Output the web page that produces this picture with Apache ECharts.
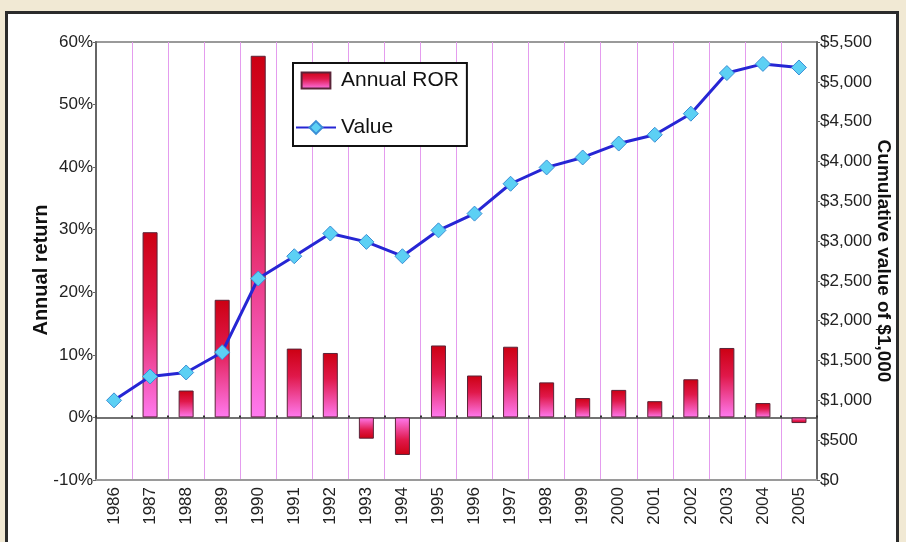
<!DOCTYPE html>
<html>
<head>
<meta charset="utf-8">
<script src="https://cdn.jsdelivr.net/npm/echarts@6/dist/echarts.min.js"></script>
<style>
  html, body { margin: 0; padding: 0; background: #f1e9d4; }
  #panel {
    position: absolute; left: 5px; top: 11px; width: 888px; height: 540px;
    background: #fff; border: 3px solid #2b2b2b; border-bottom: none;
  }
  #main { position: absolute; left: 0; top: 0; width: 906px; height: 542px; }
</style>
</head>
<body>
<div id="panel"></div>
<div id="main"></div>
<script>
// years on the x axis
const years = ['1986', '1987', '1988', '1989', '1990', '1991', '1992', '1993', '1994', '1995',
  '1996', '1997', '1998', '1999', '2000', '2001', '2002', '2003', '2004', '2005'];
// annual rate of return, percent (1986 has no bar)
const annualRor = [null, 29.6, 4.3, 18.8, 57.8, 11.0, 10.3, -3.4, -6.0, 11.5,
  6.7, 11.3, 5.6, 3.1, 4.4, 2.6, 6.1, 11.1, 2.3, -0.9];
// cumulative value of $1,000
const cumValue = [1000, 1300, 1350, 1605, 2530, 2810, 3095, 2990, 2810, 3135,
  3345, 3720, 3925, 4050, 4225, 4335, 4600, 5110, 5225, 5180];
// axis ticks
const rorTicks = { min: -10, max: 60, step: 10 };
const valueTicks = { min: 0, max: 5500, step: 500 };

function barGradient(negative) {
  const stops = [
    { offset: 0, color: '#cc0012' },
    { offset: 0.4, color: '#e0184a' },
    { offset: 1, color: '#ff7af0' }
  ];
  if (negative) {
    stops.forEach(s => { s.offset = 1 - s.offset; });
    stops.reverse();
  }
  return new echarts.graphic.LinearGradient(0, 0, 0, 1, stops);
}

const barData = annualRor.map(v => {
  if (v === null) return '-';
  return { value: v, itemStyle: { color: barGradient(v < 0) } };
});

const chart = echarts.init(document.getElementById('main'));

const option = {
  animation: false,
  textStyle: { fontFamily: 'Liberation Sans, Arial, sans-serif' },
  grid: {
    left: 96, right: 89, top: 42, bottom: 62,
    outerBoundsMode: 'none',
    show: true, backgroundColor: '#fff', borderColor: '#9a9a9a', borderWidth: 2
  },
  legend: {
    data: [
      { name: 'Annual ROR', icon: 'path://M0,0 H27 V15 H0 Z' },
      { name: 'Value' }
    ],
    orient: 'vertical',
    left: 293, top: 63,
    backgroundColor: '#fff',
    borderColor: '#111', borderWidth: 2,
    padding: [7, 8, 8, 2],
    itemGap: 26,
    itemWidth: 40, itemHeight: 16,
    symbolKeepAspect: true,
    textStyle: { fontSize: 21, color: '#111' }
  },
  xAxis: [{
    type: 'category',
    data: years,
    position: 'bottom',
    axisLine: { onZero: false, lineStyle: { color: '#9a9a9a', width: 2 } },
    axisTick: { show: false },
    axisLabel: { rotate: 90, fontSize: 17, color: '#222', margin: 7 },
    splitLine: { show: true, lineStyle: { color: '#e49cee', width: 1 } }
  }, {
    type: 'category',
    data: years,
    position: 'top',
    axisLine: { onZero: true, onZeroAxisIndex: 0, lineStyle: { color: '#444', width: 1.5 } },
    axisTick: { show: true, length: 2, lineStyle: { color: '#333', width: 2 } },
    axisLabel: { show: false },
    splitLine: { show: false }
  }],
  yAxis: [{
    type: 'value',
    min: rorTicks.min, max: rorTicks.max, interval: rorTicks.step,
    position: 'left',
    name: 'Annual return',
    nameLocation: 'middle',
    nameGap: 45,
    nameMoveOverlap: false,
    nameTextStyle: { fontSize: 20, fontWeight: 'bold', color: '#111', padding: [0, 18, 0, 0] },
    axisLine: { show: true, lineStyle: { color: '#666', width: 2 } },
    axisTick: { show: true, length: 3, lineStyle: { color: '#666' } },
    axisLabel: { formatter: '{value}%', fontSize: 17, color: '#222', margin: 3 },
    splitLine: { show: false }
  }, {
    type: 'value',
    min: valueTicks.min, max: valueTicks.max, interval: valueTicks.step,
    position: 'right',
    name: 'Cumulative value of $1,000',
    nameLocation: 'middle',
    nameRotate: -90,
    nameGap: 57,
    nameMoveOverlap: false,
    nameTextStyle: { fontSize: 19, fontWeight: 'bold', color: '#111' },
    axisLine: { show: true, lineStyle: { color: '#666', width: 2 } },
    axisTick: { show: true, length: 3, lineStyle: { color: '#666' } },
    axisLabel: {
      formatter: v => '$' + v.toLocaleString('en-US'),
      fontSize: 17, color: '#222', margin: 3
    },
    splitLine: { show: false }
  }],
  series: [{
    name: 'Annual ROR',
    type: 'bar',
    xAxisIndex: 0,
    yAxisIndex: 0,
    barWidth: 15,
    data: barData,
    itemStyle: { color: barGradient(false), borderColor: '#5a2438', borderWidth: 1 }
  }, {
    name: 'Value',
    type: 'line',
    xAxisIndex: 0,
    yAxisIndex: 1,
    data: cumValue,
    symbol: 'diamond',
    symbolSize: 15,
    z: 5,
    lineStyle: { color: '#2626d4', width: 3 },
    itemStyle: { color: '#5cd0f4', borderColor: '#3b8fd6', borderWidth: 1 }
  }]
};

chart.setOption(option);
</script>
</body>
</html>
